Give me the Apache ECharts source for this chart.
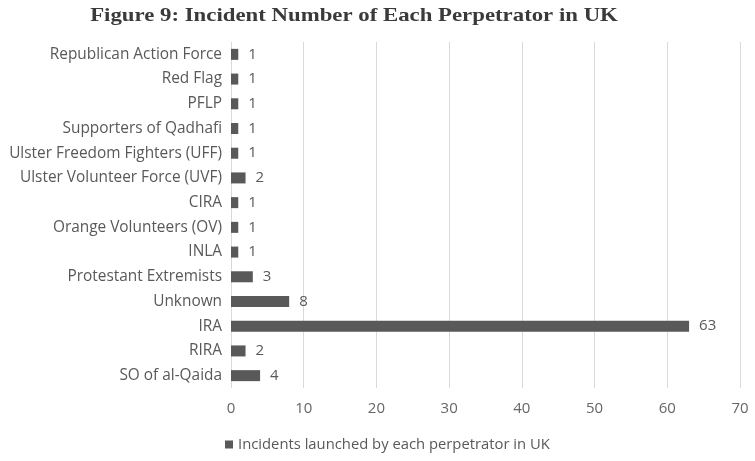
<!DOCTYPE html>
<html><head><meta charset="utf-8">
<script src="https://cdn.jsdelivr.net/npm/echarts@6/dist/echarts.min.js"></script>
<style>html,body{margin:0;padding:0;background:#fff}#c{width:755px;height:461px}</style>
</head><body><div id="c"></div>
<script>
const categories = ["SO of al-Qaida","RIRA","IRA","Unknown","Protestant Extremists","INLA","Orange Volunteers (OV)","CIRA","Ulster Volunteer Force (UVF)","Ulster Freedom Fighters (UFF)","Supporters of Qadhafi","PFLP","Red Flag","Republican Action Force"];
const values = [4,2,63,8,3,1,1,1,2,1,1,1,1,1];
const seriesName = "Incidents launched by each perpetrator in UK";
const titleText = "Figure 9: Incident Number of Each Perpetrator in UK";
const chart = echarts.init(document.getElementById('c'));
const font = "Open Sans";
chart.setOption({
  animation:false,
  graphic:[{type:'text',x:354,y:7,scaleX:1.2,originX:0,
    style:{text:titleText,textAlign:'center',textVerticalAlign:'top',fill:'#3a3a3a',font:'bold 19px "Liberation Serif"'}}],
  grid:{left:231,right:15,top:42,bottom:73,containLabel:false},
  xAxis:{type:'value',min:0,max:70,interval:10,axisLine:{show:false},axisTick:{show:false},
    splitLine:{lineStyle:{color:'#d9d9d9'}},axisLabel:{color:'#666666',fontFamily:font,fontSize:15,margin:13}},
  yAxis:{type:'category',data:categories,axisTick:{show:false},axisLine:{show:false},
    axisLabel:{color:'#595959',fontFamily:font,fontSize:15.4,margin:9}},
  legend:{bottom:4,left:220,itemWidth:8,itemHeight:8,icon:'rect',itemGap:4,
    textStyle:{color:'#595959',fontFamily:font,fontSize:14.8}},
  series:[{name:seriesName,type:'bar',data:values,barWidth:11,
    itemStyle:{color:'#595959'},
    label:{show:true,position:'right',distance:10,color:'#595959',fontFamily:font,fontSize:15}}]
});
</script></body></html>
